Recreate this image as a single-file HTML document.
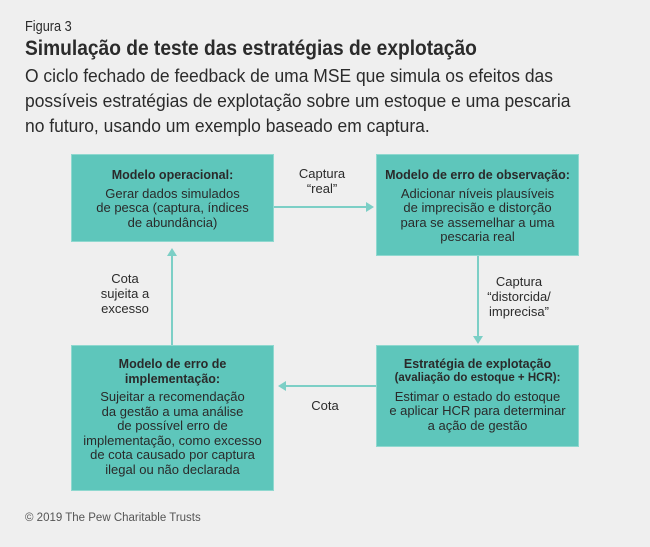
<!DOCTYPE html>
<html><head><meta charset="utf-8"><style>
body{margin:0;width:650px;height:547px;background:#efefef;position:relative;overflow:hidden;font-family:"Liberation Sans",sans-serif;color:#2b2b2b}
.a{position:absolute;white-space:nowrap}
.sx{transform-origin:0 0}
.box{position:absolute;background:#5ec6bb;border:1px solid #8fd8cf;box-sizing:border-box;text-align:center;font-size:13px;line-height:14.5px;color:#2a2a2a}
.box b{display:block;font-size:12.5px}
.lbl{position:absolute;text-align:center;font-size:13px;line-height:15px;color:#2b2b2b}
</style></head><body>
<div class="a sx" style="left:25px;top:18px;font-size:15px;transform:scaleX(0.85)">Figura 3</div>
<div class="a sx" style="left:25px;top:37px;font-size:21px;font-weight:bold;transform:scaleX(0.913)">Simulação de teste das estratégias de explotação</div>
<div class="a sx" style="left:25px;top:64px;font-size:18px;line-height:25px;transform:scaleX(0.97)">O ciclo fechado de feedback de uma MSE que simula os efeitos das<br>possíveis estratégias de explotação sobre um estoque e uma pescaria<br>no futuro, usando um exemplo baseado em captura.</div>

<svg style="position:absolute;left:0;top:0" width="650" height="547">
<g stroke="#7ccfc6" stroke-width="2" fill="none">
<line x1="273" y1="207" x2="368" y2="207"/>
<line x1="478" y1="256" x2="478" y2="338"/>
<line x1="376" y1="386" x2="283" y2="386"/>
<line x1="172" y1="345" x2="172" y2="252"/>
</g>
<g fill="#7ccfc6">
<polygon points="374,207 366,202 366,212"/>
<polygon points="478,344 473,336 483,336"/>
<polygon points="278,386 286,381 286,391"/>
<polygon points="172,248 167,256 177,256"/>
</g>
</svg>

<div class="box" style="left:71px;top:154px;width:203px;height:88px;padding-top:13px"><b>Modelo operacional:</b><div style="margin-top:4px">Gerar dados simulados<br>de pesca (captura, índices<br>de abundância)</div></div>
<div class="box" style="left:376px;top:154px;width:203px;height:102px;padding-top:13px"><b>Modelo de erro de observação:</b><div style="margin-top:4px">Adicionar níveis plausíveis<br>de imprecisão e distorção<br>para se assemelhar a uma<br>pescaria real</div></div>
<div class="box" style="left:376px;top:345px;width:203px;height:102px;padding-top:11px"><b>Estratégia de explotação</b><div style="font-size:11.5px;font-weight:bold;line-height:13px">(avaliação do estoque + HCR):</div><div style="margin-top:5px">Estimar o estado do estoque<br>e aplicar HCR para determinar<br>a ação de gestão</div></div>
<div class="box" style="left:71px;top:345px;width:203px;height:146px;padding-top:11px"><b>Modelo de erro de<br>implementação:</b><div style="margin-top:4px">Sujeitar a recomendação<br>da gestão a uma análise<br>de possível erro de<br>implementação, como excesso<br>de cota causado por captura<br>ilegal ou não declarada</div></div>

<div class="lbl" style="left:282px;top:166px;width:80px">Captura<br>“real”</div>
<div class="lbl" style="left:474px;top:274px;width:90px">Captura<br>“distorcida/<br>imprecisa”</div>
<div class="lbl" style="left:295px;top:398px;width:60px">Cota</div>
<div class="lbl" style="left:90px;top:271px;width:70px">Cota<br>sujeita a<br>excesso</div>

<div class="a" style="left:25px;top:512px;font-size:11.5px;color:#555">© 2019 The Pew Charitable Trusts</div>
</body></html>
